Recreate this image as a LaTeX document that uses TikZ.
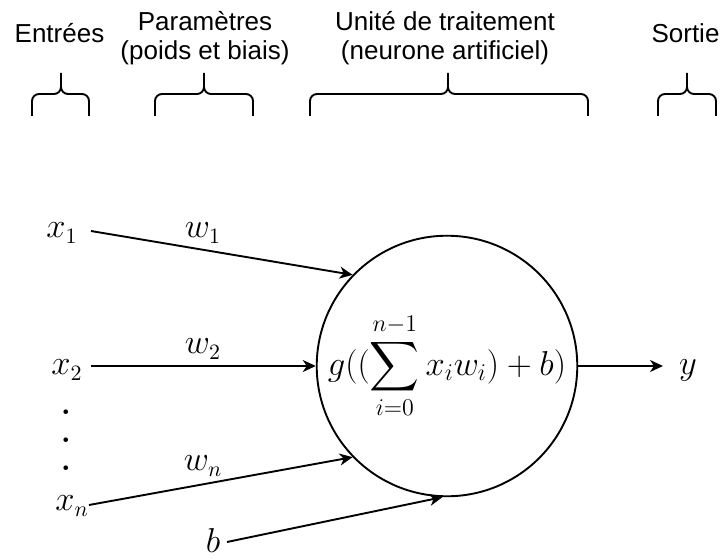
\documentclass[tikz,border=0pt]{standalone}
\usepackage{exscale}
\usepackage[no-math]{fontspec}
\newfontfamily\labelfont{Liberation Sans}
\usetikzlibrary{arrows.meta}
\newcommand\topbrace[3]{%
  \draw[bracestyle] (#1,442) -- (#1,457) arc[start angle=180,end angle=90,radius=7]
    -- (#2-7,464) arc[start angle=270,end angle=360,radius=7] -- (#2,485)
    (#2,471) arc[start angle=180,end angle=270,radius=7]
    -- (#3-7,464) arc[start angle=90,end angle=0,radius=7] -- (#3,442);}
\begin{document}
\begin{tikzpicture}[x=0.5pt,y=0.5pt,
  conn/.style={line width=0.95pt, -{Stealth[length=6.5pt,width=6pt,inset=2pt]}},
  bracestyle/.style={line width=0.95pt, line cap=butt},
  title/.style={font=\labelfont\fontsize{13}{14.5}\selectfont, align=center, inner sep=0},
  mathlbl/.style={font=\fontsize{16}{19}\selectfont, inner sep=0},
  neuronstyle/.style={circle, draw, line width=0.95pt, minimum size=126pt, inner sep=0,
    font=\fontsize{16.5}{19}\selectfont}]
\useasboundingbox (0,0) rectangle (723,558);
% titles
\node[title, anchor=base] (tin) at (59.5,515) {Entrées};
\node[title] (tpar) at (205,520) {Paramètres\\(poids et biais)};
\node[title] (tunit) at (445,520) {Unité de traitement\\(neurone artificiel)};
\node[title, anchor=base] (tout) at (685.5,515) {Sortie};
% braces
\topbrace{32}{61}{89}
\topbrace{155}{204}{253}
\topbrace{310}{448}{588}
\topbrace{658}{687}{716}
% neuron
\node[neuronstyle] (neuron) at (447,192) {$\displaystyle g((\sum_{i=0}^{n-1} x_i w_i)+b)$};
% inputs
\node[mathlbl] (x1) at (62,325) {$x_1$};
\node[mathlbl] (x2) at (67,188) {$x_2$};
\node[mathlbl] (xn) at (72,52) {$x_n$};
\node[mathlbl] (b) at (213,18) {$b$};
\node[mathlbl, align=center, font=\bfseries\fontsize{16}{14}\selectfont] (dots) at (66,118) {.\\.\\.};
\node[mathlbl] (w1) at (203,325) {$w_1$};
\node[mathlbl] (w2) at (203,209) {$w_2$};
\node[mathlbl] (wn) at (203,92) {$w_n$};
\node[mathlbl] (y) at (688,188) {$y$};
\coordinate (s1) at (91,327);
\coordinate (s2) at (91,192);
\coordinate (sn) at (89,53);
\coordinate (sb) at (227,16);
\coordinate (yend) at (663,192);
\draw[conn] (s1) -- (neuron.136);
\draw[conn] (s2) -- (neuron.west);
\draw[conn] (sn) -- (neuron.224);
\draw[conn] (sb) -- (neuron.268);
\draw[conn] (neuron.east) -- (yend);
\end{tikzpicture}
\end{document}
